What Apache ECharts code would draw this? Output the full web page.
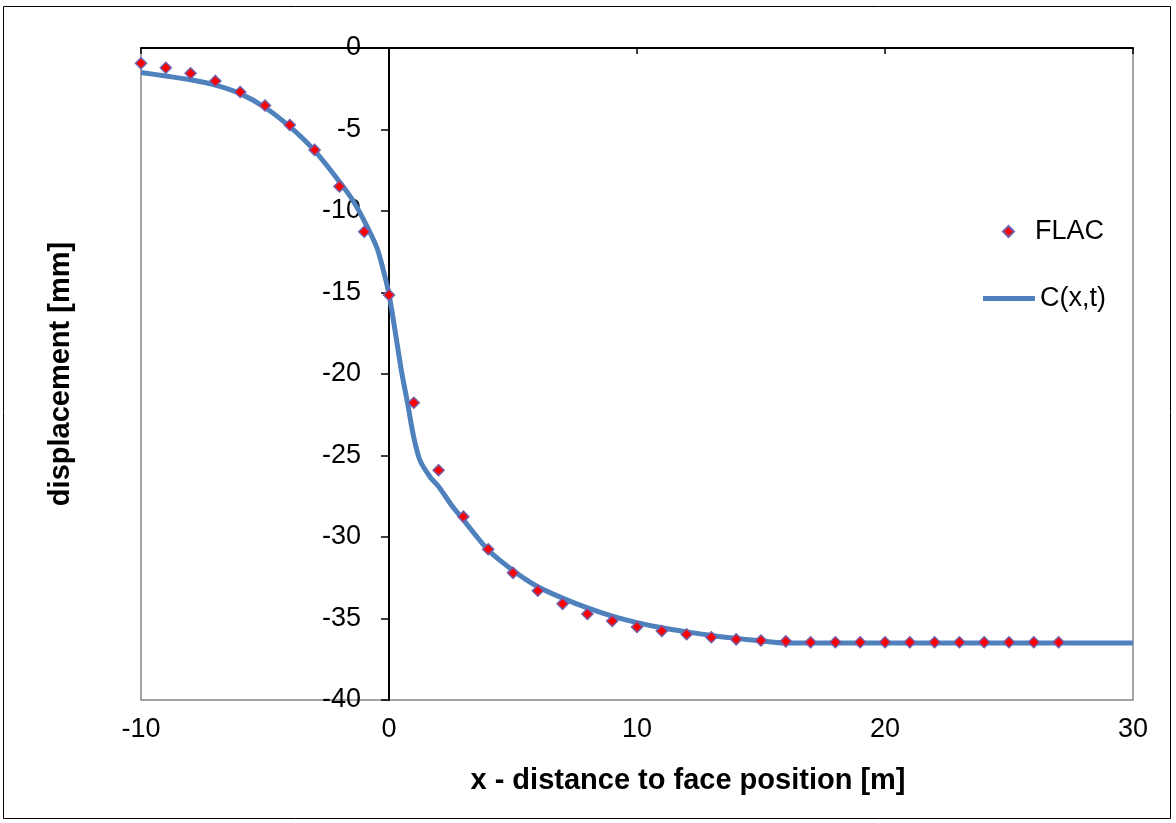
<!DOCTYPE html>
<html>
<head>
<meta charset="utf-8">
<script src="https://cdn.jsdelivr.net/npm/echarts@6/dist/echarts.min.js"></script>
<style>
  html, body { margin: 0; padding: 0; background: #fff; }
  #main { width: 1176px; height: 823px; }
</style>
</head>
<body>
<div id="main"></div>
<script>
// FLAC points (x in m, displacement in mm)
const flacX = [-10, -9, -8, -7, -6, -5, -4, -3, -2, -1, 0, 1, 2, 3, 4, 5, 6, 7, 8, 9,
  10, 11, 12, 13, 14, 15, 16, 17, 18, 19, 20, 21, 22, 23, 24, 25, 26, 27]
const flacY = [-0.94, -1.21, -1.55, -2.02, -2.7, -3.53, -4.72, -6.25, -8.5, -11.27, -15.15,
  -21.76, -25.9, -28.75, -30.75, -32.2, -33.3, -34.1, -34.72, -35.15,
  -35.52, -35.77, -35.97, -36.15, -36.28, -36.35, -36.4, -36.46, -36.46, -36.46, -36.46,
  -36.46, -36.46, -36.46, -36.46, -36.46, -36.46, -36.46]

// C(x,t) curve samples
const curveX = [-10, -9, -8, -7, -6, -5, -4, -3, -2, -1.5, -1, -0.5, -0.25, 0, 0.25, 0.5, 0.75,
  1, 1.25, 1.65, 2, 2.5, 3, 4, 5, 6, 7, 8, 9, 10, 11, 12, 13, 14, 15, 16, 20, 25, 30]
const curveY = [-1.5, -1.72, -1.95, -2.28, -2.8, -3.65, -4.83, -6.3, -8.2, -9.25, -10.6, -12.2,
  -13.5, -15.1, -17.4, -19.8, -21.8, -23.9, -25.3, -26.3, -26.9, -28.0, -28.95, -30.8,
  -32.05, -33.05, -33.75, -34.35, -34.85, -35.25, -35.57, -35.82, -36.04, -36.22, -36.37,
  -36.5, -36.5, -36.5, -36.5]

const font = 'Arial, "Liberation Sans", sans-serif'
const fs = 27
const nameFs = 29

let chart = echarts.init(document.getElementById('main'))

chart.setOption({
  animation: false,
  backgroundColor: '#fff',
  grid: {
    left: 141, right: 43, top: 48, bottom: 123,
    show: true, borderColor: '#868686', borderWidth: 1.5
  },
  graphic: [{
    type: 'rect',
    shape: { x: 3.5, y: 6.5, width: 1167, height: 812 },
    style: { fill: null, stroke: '#000', lineWidth: 1 },
    silent: true
  }],
  legend: [{
    data: [{ name: 'FLAC', icon: 'diamond' }],
    orient: 'vertical',
    left: 997, top: 213,
    itemWidth: 11, itemHeight: 11,
    textStyle: { fontFamily: font, fontSize: fs, color: '#000', padding: [0, 0, 0, 16] }
  }, {
    data: [{ name: 'C(x,t)', icon: 'rect' }],
    orient: 'vertical',
    left: 978, top: 280,
    itemWidth: 52, itemHeight: 5,
    textStyle: { fontFamily: font, fontSize: fs, color: '#000' }
  }],
  xAxis: [{
    type: 'value', position: 'top',
    min: -10, max: 30, interval: 10,
    axisLine: { onZero: false, lineStyle: { color: '#000', width: 2 } },
    axisTick: { inside: true, length: 6, lineStyle: { color: '#000', width: 1.5 } },
    axisLabel: { show: false },
    splitLine: { show: false }
  }, {
    type: 'value', position: 'bottom',
    min: -10, max: 30, interval: 10,
    axisLine: { show: false },
    axisTick: { show: false },
    axisLabel: { margin: 16, fontFamily: font, fontSize: fs, color: '#000' },
    splitLine: { show: false },
    name: 'x - distance to face position [m]',
    nameLocation: 'middle', nameGap: 66,
    nameTextStyle: {
      fontFamily: font, fontSize: nameFs, fontWeight: 'bold', color: '#000',
      padding: [0, 0, 0, 102]
    }
  }],
  yAxis: [{
    type: 'value', position: 'left',
    offset: -248,
    min: -40, max: 0, interval: 5,
    axisLine: { show: true, onZero: false, lineStyle: { color: '#000', width: 2 } },
    axisTick: { show: true, length: 8, lineStyle: { color: '#000', width: 1.5 } },
    axisLabel: { margin: 28, fontFamily: font, fontSize: fs, color: '#000' },
    splitLine: { show: false }
  }, {
    type: 'value', position: 'left',
    min: -40, max: 0,
    axisLine: { show: false }, axisTick: { show: false },
    axisLabel: { show: false }, splitLine: { show: false },
    name: 'displacement [mm]',
    nameLocation: 'middle', nameGap: 66,
    nameTextStyle: { fontFamily: font, fontSize: nameFs, fontWeight: 'bold', color: '#000' }
  }],
  series: [{
    name: 'C(x,t)',
    type: 'line',
    xAxisIndex: 0, yAxisIndex: 0,
    data: curveX.map((x, i) => [x, curveY[i]]),
    symbol: 'none',
    smooth: 0.25,
    lineStyle: { color: '#4F81BD', width: 5 },
    itemStyle: { color: '#4F81BD' },
    z: 2
  }, {
    name: 'FLAC',
    type: 'scatter',
    xAxisIndex: 0, yAxisIndex: 0,
    data: flacX.map((x, i) => [x, flacY[i]]),
    symbol: 'diamond',
    symbolSize: 11,
    itemStyle: { color: '#FF0000', borderColor: '#7360A8', borderWidth: 1.5, opacity: 1 },
    z: 3
  }]
})
</script>
</body>
</html>
